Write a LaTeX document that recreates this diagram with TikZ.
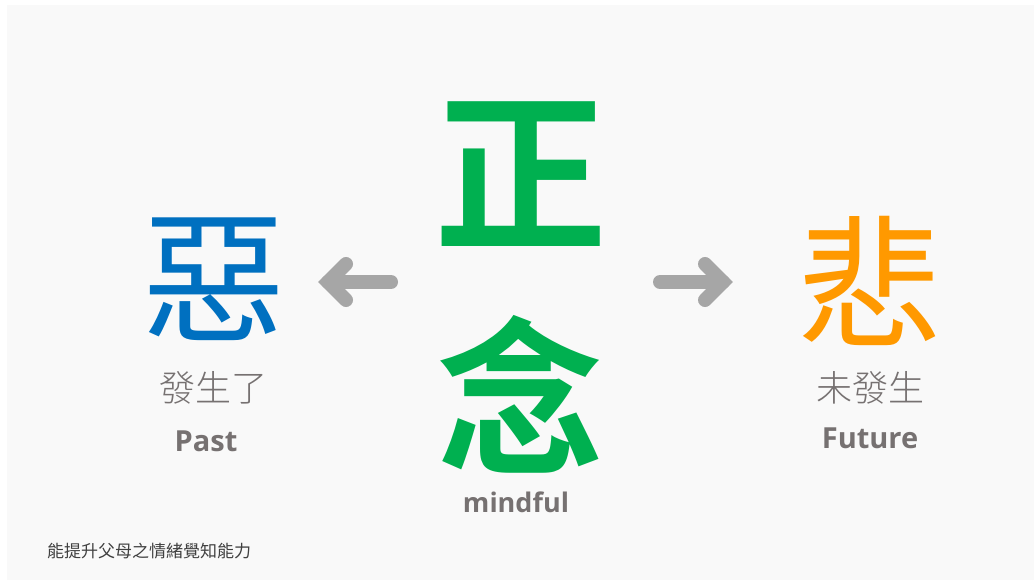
\documentclass[tikz,border=0pt]{standalone}
\usepackage{fontspec}
\newfontfamily\cjk{Noto Sans CJK TC}
\newfontfamily\cjkb{Noto Sans CJK TC Bold}
\newfontfamily\cjkl{Noto Sans CJK TC Light}
\newfontfamily\semib{Open Sans}
\definecolor{panel}{HTML}{F9F9F9}
\definecolor{zgreen}{HTML}{00B050}
\definecolor{zblue}{HTML}{0070C0}
\definecolor{zorange}{HTML}{FF9900}
\definecolor{ztext}{HTML}{767171}
\definecolor{zarrow}{HTML}{A6A6A6}
\definecolor{zdark}{HTML}{404040}
\tikzset{
  big/.style={inner sep=0pt, font=\cjkb\fontsize{#1}{#1}\selectfont},
  mid/.style={inner sep=0pt, font=\cjk\fontsize{#1}{#1}\selectfont},
  lab/.style={inner sep=0pt, text=ztext, font=\cjkl\fontsize{36}{36}\selectfont},
  eng/.style={inner sep=0pt, text=ztext, font=\semib\bfseries\fontsize{#1}{#1}\selectfont, anchor=base},
  chev/.style={draw=zarrow, line width=14pt, line cap=round, line join=miter}
}
\begin{document}
\begin{tikzpicture}[x=1pt,y=-1pt]
\useasboundingbox (0,0) rectangle (1034,580);
\fill[white] (0,0) rectangle (1034,580);
\fill[panel] (7,5) rectangle (1034,580);
% central characters
\node[big=173, text=zgreen] (zheng) at (520.5,174) {正};
\node[big=168, text=zgreen] (nian) at (520,394) {念};
\node[eng=27, anchor=base] (mindful) at (516,512) {mindful};
% left
\node[mid=143, text=zblue] (e) at (214,279) {惡};
\node[lab] (past1) at (213,388) {發生了};
\node[eng=29] (past) at (206,451) {Past};
% right
\node[mid=143, text=zorange] (bei) at (870,281) {悲};
\node[lab] (fut1) at (870,388) {未發生};
\node[eng=29] (fut) at (870,448) {Future};
% arrows
\coordinate (la) at (328,282);
\coordinate (lb) at (391,282);
\coordinate (lt) at (346,264);
\coordinate (lbo) at (346,300);
\draw[chev] (lb) -- (la);
\draw[chev] (lt) -- (la) -- (lbo);
\coordinate (ra) at (723,282);
\coordinate (rb) at (660,282);
\coordinate (rt) at (705,264);
\coordinate (rbo) at (705,300);
\draw[chev] (rb) -- (ra);
\draw[chev] (rt) -- (ra) -- (rbo);
% footer
\node[inner sep=0pt, anchor=west, text=zdark, font=\cjk\fontsize{17}{17}\selectfont] (foot) at (47,551) {能提升父母之情緒覺知能力};
\end{tikzpicture}
\end{document}
